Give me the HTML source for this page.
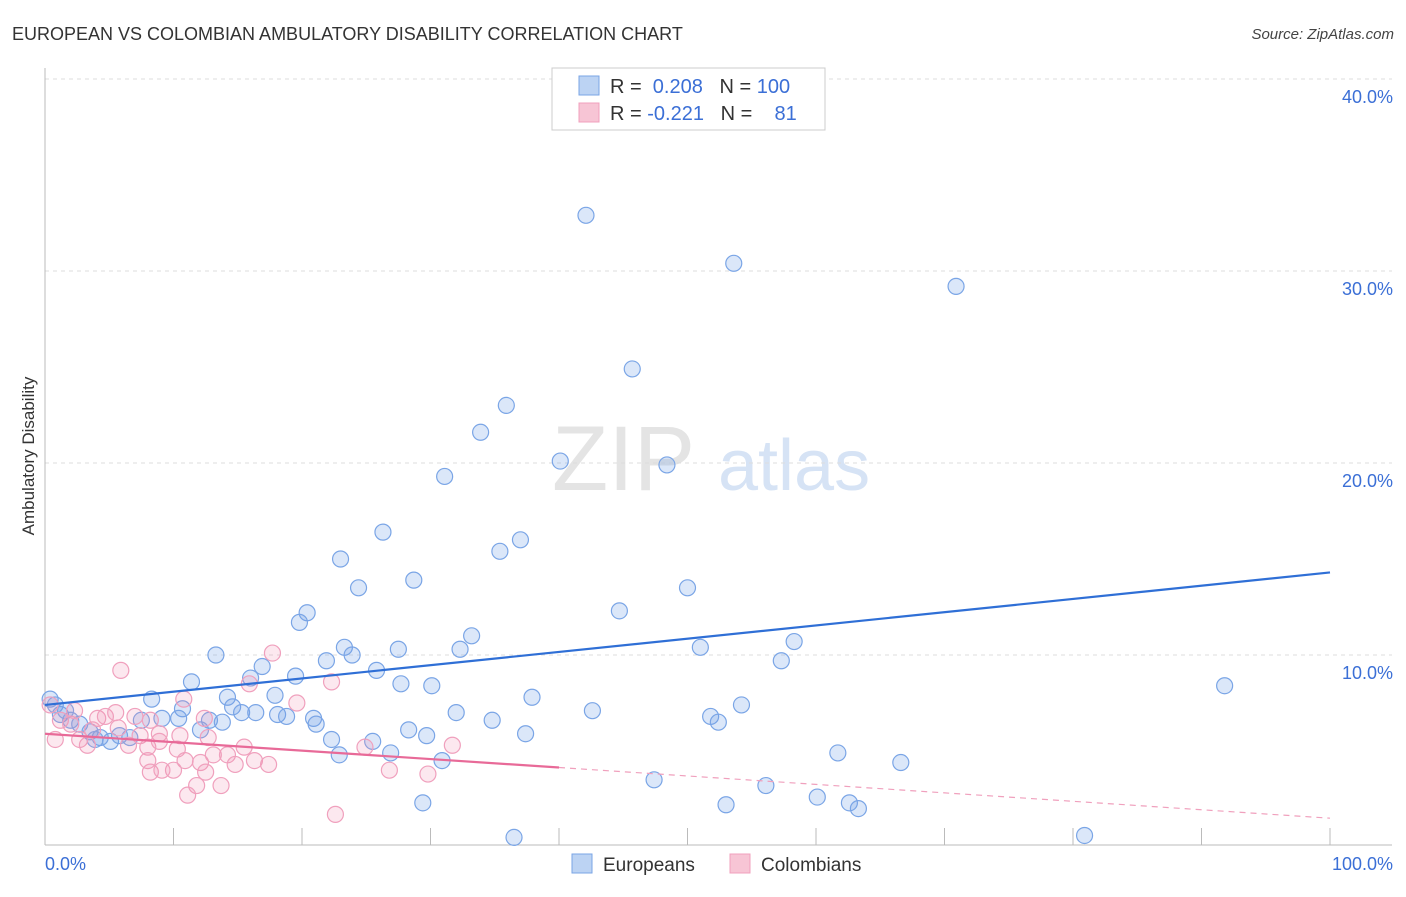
<!DOCTYPE html>
<html><head><meta charset="utf-8">
<style>
body{margin:0;background:#fff;font-family:"Liberation Sans",sans-serif;}
svg text{font-family:"Liberation Sans",sans-serif;}
</style></head>
<body>
<svg id="chart" width="1406" height="892" xmlns="http://www.w3.org/2000/svg">
<text x="12" y="40" font-size="18" fill="#333">EUROPEAN VS COLOMBIAN AMBULATORY DISABILITY CORRELATION CHART</text>
<text x="1394" y="39" font-size="15" fill="#444" text-anchor="end" font-style="italic">Source: ZipAtlas.com</text>
<text transform="translate(34,456) rotate(-90)" font-size="17" fill="#333" text-anchor="middle">Ambulatory Disability</text>
<g>
<text x="552" y="490" font-size="92" fill="#e4e4e4" font-family="Liberation Serif,serif">ZIP</text>
<text x="718" y="490" font-size="72" fill="#d6e3f5">atlas</text>
</g>
<g id="grid"></g>
<g id="axes"></g>
<g id="pts"></g>
<g id="trend"></g>
<g>
<rect x="552" y="68" width="273" height="62" fill="#fff" stroke="#ccc"/>
<rect x="579" y="76" width="20" height="19" fill="#bcd3f3" stroke="#7aa5e6"/>
<rect x="579" y="103" width="20" height="19" fill="#f7c5d5" stroke="#f0a0bd"/>
<text x="610" y="93" font-size="20" fill="#333">R = <tspan fill="#3b6fd6">&#160;0.208</tspan>&#160;&#160;&#160;N = <tspan fill="#3b6fd6">100</tspan></text>
<text x="610" y="120" font-size="20" fill="#333">R = <tspan fill="#3b6fd6">-0.221</tspan>&#160;&#160;&#160;N = <tspan fill="#3b6fd6">&#160;&#160;&#160;81</tspan></text>
</g>
<g>
<rect x="572" y="854" width="20" height="19" fill="#bcd3f3" stroke="#7aa5e6"/>
<text x="603" y="871" font-size="19" fill="#333">Europeans</text>
<rect x="730" y="854" width="20" height="19" fill="#f7c5d5" stroke="#f0a0bd"/>
<text x="761" y="871" font-size="19" fill="#333">Colombians</text>
</g>
</svg>
<script>
const euX=[42.1,53.6,70.9,45.7,35.9,33.9,40.1,48.4,31.1,26.3,37.0,35.4,23.0,28.7,24.4,50.0,44.7,20.4,19.8,33.2,23.3,58.3,32.3,27.5,23.9,51.0,13.3,21.9,57.3,16.9,25.8,19.5,16.0,11.4,27.7,30.1,91.8,17.9,14.2,37.9,8.3,54.2,0.4,14.6,10.7,15.3,16.4,42.6,32.0,51.8,18.1,18.8,20.9,34.8,52.4,12.8,9.1,10.4,13.8,7.5,21.1,28.3,29.7,37.4,12.1,1.2,2.0,2.7,3.5,4.3,5.1,5.8,6.6,22.3,25.5,22.9,26.9,30.9,61.7,66.6,47.4,56.1,60.1,62.6,63.3,53.0,29.4,36.5,80.9,0.8,1.6,3.9];
const euY=[32.9,30.4,29.2,24.9,23.0,21.6,20.1,19.9,19.3,16.4,16.0,15.4,15.0,13.9,13.5,13.5,12.3,12.2,11.7,11.0,10.4,10.7,10.3,10.3,10.0,10.4,10.0,9.7,9.7,9.4,9.2,8.9,8.8,8.6,8.5,8.4,8.4,7.9,7.8,7.8,7.7,7.4,7.7,7.3,7.2,7.0,7.0,7.1,7.0,6.8,6.9,6.8,6.7,6.6,6.5,6.6,6.7,6.7,6.5,6.6,6.4,6.1,5.8,5.9,6.1,6.9,6.6,6.4,6.0,5.7,5.5,5.8,5.7,5.6,5.5,4.8,4.9,4.5,4.9,4.4,3.5,3.2,2.6,2.3,2.0,2.2,2.3,0.5,0.6,7.4,7.1,5.6];
const coX=[5.9,17.7,15.9,22.3,10.8,19.6,0.4,1.2,2.0,2.7,4.1,4.7,7.0,8.2,12.4,5.7,7.4,8.9,10.5,12.7,0.8,3.3,6.5,8.0,10.3,8.9,15.5,24.9,31.7,13.1,14.2,10.9,8.0,16.3,17.4,14.8,12.1,10.0,8.2,9.1,12.5,26.8,29.8,11.8,13.7,11.1,22.6,2.3,5.5,3.7];
const coY=[9.2,10.1,8.5,8.6,7.7,7.5,7.4,6.6,6.4,5.6,6.7,6.8,6.8,6.6,6.7,6.2,5.8,5.9,5.8,5.7,5.6,5.3,5.3,5.2,5.1,5.5,5.2,5.2,5.3,4.8,4.8,4.5,4.5,4.5,4.3,4.3,4.4,4.0,3.9,4.0,3.9,4.0,3.8,3.2,3.2,2.7,1.7,7.1,7.0,6.1];
const euTrend=[7.4,14.3];
const coTrend=[5.9,1.5];
const coSolidEnd=40;
const yTicks=[10,20,30,40];
const yTickLabels=["10.0%","20.0%","30.0%","40.0%"];
const xTicks=[0,10,20,30,40,50,60,70,80,90,100];
const NS="http://www.w3.org/2000/svg";
const X=v=>45+v*12.85, Y=v=>847-v*19.2;
function mk(tag,attrs,parent){const e=document.createElementNS(NS,tag);for(const k in attrs)e.setAttribute(k,attrs[k]);document.getElementById(parent).appendChild(e);return e;}
yTicks.forEach((t,i)=>{
 const l=mk('line',{x1:45,x2:1392,y1:Y(t),y2:Y(t),stroke:'#ddd','stroke-dasharray':'4,4'},'grid');
 
 
 const tx=mk('text',{x:1393,y:Y(t)+24,'font-size':18,fill:'#3b6fd6','text-anchor':'end'},'grid');
 tx.textContent=yTickLabels[i];
 
 
});
const ax=mk('line',{x1:45,x2:1392,y1:845,y2:845,stroke:'#bbb'},'axes');


const ay=mk('line',{x1:45,x2:45,y1:68,y2:845,stroke:'#bbb'},'axes');


xTicks.forEach(t=>{
 const l=mk('line',{x1:X(t),x2:X(t),y1:828,y2:845,stroke:'#bbb'},'axes');
 
 
});
const x0=mk('text',{x:45,y:870,'font-size':18,fill:'#3b6fd6'},'axes');x0.textContent='0.0%';


const x1=mk('text',{x:1393,y:870,'font-size':18,fill:'#3b6fd6','text-anchor':'end'},'axes');x1.textContent='100.0%';


euX.forEach((v,i)=>{
 const c=mk('circle',{cx:X(v),cy:Y(euY[i]),r:8,fill:'rgba(110,160,230,0.25)',stroke:'#7aa5e6','stroke-width':1.2},'pts');
 
 
});
coX.forEach((v,i)=>{
 const c=mk('circle',{cx:X(v),cy:Y(coY[i]),r:8,fill:'rgba(240,140,175,0.2)',stroke:'#f0a0bd','stroke-width':1.2},'pts');
 
 
});
const bl=mk('line',{x1:X(0),y1:Y(euTrend[0]),x2:X(100),y2:Y(euTrend[1]),stroke:'#2f6fd6','stroke-width':2.2},'trend');


const cm=coTrend[0]+(coTrend[1]-coTrend[0])*coSolidEnd/100;
const pl=mk('line',{x1:X(0),y1:Y(coTrend[0]),x2:X(coSolidEnd),y2:Y(cm),stroke:'#e86a98','stroke-width':2.2},'trend');


const pd=mk('line',{x1:X(coSolidEnd),y1:Y(cm),x2:X(100),y2:Y(coTrend[1]),stroke:'#f0a0bd','stroke-width':1.2,'stroke-dasharray':'6,5'},'trend');


</script>
</body></html>
